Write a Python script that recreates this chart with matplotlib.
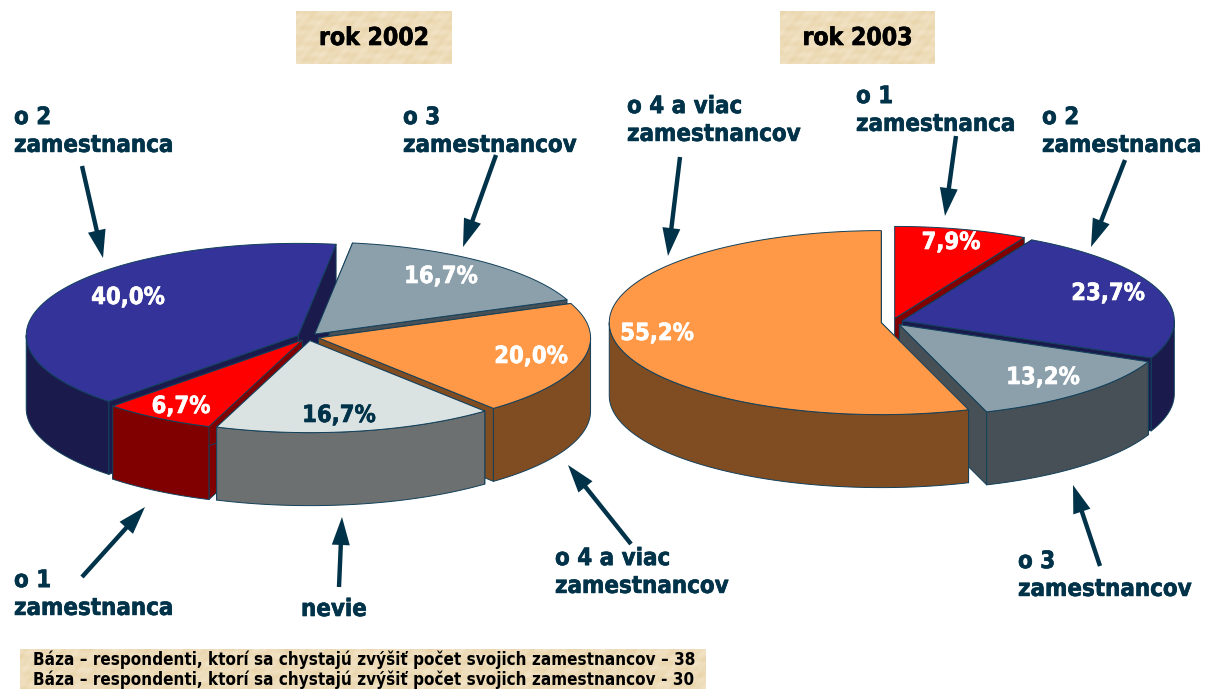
import numpy as np
import matplotlib
matplotlib.use("Agg")
import matplotlib.pyplot as plt
import matplotlib.patheffects as pe
from matplotlib.patches import Polygon
from matplotlib.font_manager import FontProperties

TEAL = "#003349"
EDGE = "#12405A"


def bold(size):
    return FontProperties(family="DejaVu Sans", stretch="condensed", weight="bold", size=size)


def heavy(color, w=0.45):
    return [pe.withStroke(linewidth=w, foreground=color)]


# data (clockwise from start angle)
values_2002 = [16.7, 20.0, 16.7, 6.7, 40.0]
labels_2002 = ["16,7%", "20,0%", "16,7%", "6,7%", "40,0%"]
tops_2002 = ["#8CA0AC", "#FF9947", "#DAE2E2", "#FF0000", "#333399"]
sides_2002 = ["#465056", "#804C22", "#6D7070", "#800000", "#1A1A4D"]
lblcol_2002 = ["white", "white", TEAL, "white", "white"]
lblpos_2002 = [(441, 276), (531, 356), (339, 415), (181, 406), (128, 297)]

values_2003 = [7.9, 23.7, 13.2, 55.2]
labels_2003 = ["7,9%", "23,7%", "13,2%", "55,2%"]
tops_2003 = ["#FF0000", "#333399", "#8CA0AC", "#FF9947"]
sides_2003 = ["#800000", "#1A1A4D", "#465056", "#804C22"]
lblcol_2003 = ["white", "white", "white", "white"]
lblpos_2003 = [(951, 242), (1108, 293), (1043, 377), (657, 333)]

category_text = [
    ("o 2\nzamestnanca", 14, 131),
    ("o 3\nzamestnancov", 403, 131),
    ("o 1\nzamestnanca", 14, 594),
    ("nevie", 301, 609),
    ("o 4 a viac\nzamestnancov", 555, 572),
    ("o 4 a viac\nzamestnancov", 627, 120),
    ("o 1\nzamestnanca", 856, 110),
    ("o 2\nzamestnanca", 1042, 131),
    ("o 3\nzamestnancov", 1018, 575),
]
arrows = [
    ((82, 166), (103, 258)),
    ((496, 155), (463, 247)),
    ((82, 577), (145, 507)),
    ((339, 587), (342, 517)),
    ((631, 544), (568, 465)),
    ((680, 157), (668, 256)),
    ((956, 136), (945, 216)),
    ((1125, 160), (1091, 247)),
    ((1100, 566), (1073, 485)),
]
titles = [("rok 2002", 296, 452), ("rok 2003", 780, 935)]
base_lines = [
    "Báza – respondenti, ktorí sa chystajú zvýšiť počet svojich zamestnancov – 38",
    "Báza – respondenti, ktorí sa chystajú zvýšiť počet svojich zamestnancov - 30",
]

W, H = 1206, 689
fig = plt.figure(figsize=(W / 100, H / 100), dpi=100)
ax = fig.add_axes([0, 0, 1, 1])
ax.set_xlim(0, W)
ax.set_ylim(H, 0)
ax.axis("off")


def pie3d(values, tops, sides, cx, cy, start, a=272, b=92, depth=73, explode=0.04):
    vals = np.asarray(values, float)
    ang = start + np.concatenate([[0], np.cumsum(vals / vals.sum() * 360)])
    slices = []
    for i in range(len(vals)):
        t0, t1 = ang[i], ang[i + 1]
        mid = np.radians((t0 + t1) / 2)
        vx = cx + explode * a * np.sin(mid)
        vy = cy - explode * b * np.cos(mid)
        slices.append((np.cos(mid), vx, vy, t0, t1, tops[i], sides[i]))
    order = sorted(slices, key=lambda s: -s[0])
    kw = dict(ec=EDGE, lw=0.7, joinstyle="round")

    def pt(vx, vy, deg):
        r = np.radians(deg)
        return vx + a * np.sin(r), vy - b * np.cos(r)

    # radial walls
    for _, vx, vy, t0, t1, _t, side in order:
        for deg in (t0, t1):
            x, y = pt(vx, vy, deg)
            ax.add_patch(Polygon([(vx, vy), (x, y), (x, y + depth), (vx, vy + depth)],
                                 fc=side, zorder=2, **kw))
    # rims: only the front half of the circle
    for _, vx, vy, t0, t1, _t, side in order:
        for k in (-360, 0, 360):
            lo, hi = max(t0, 90 + k), min(t1, 270 + k)
            if hi > lo:
                xs, ys = pt(vx, vy, np.linspace(lo, hi, 200))
                ax.add_patch(Polygon(np.c_[np.r_[xs, xs[::-1]], np.r_[ys, ys[::-1] + depth]],
                                     fc=side, zorder=3, **kw))
    # tops
    for _, vx, vy, t0, t1, top, _s in order:
        xs, ys = pt(vx, vy, np.linspace(t0, t1, 300))
        ax.add_patch(Polygon(np.c_[np.r_[vx, xs], np.r_[vy, ys]], fc=top, zorder=4, **kw))


pie3d(values_2002, tops_2002, sides_2002, 308, 337, 8)
pie3d(values_2003, tops_2003, sides_2003, 892, 322, 0)


def texture(x0, x1, y0, y1):
    xx, yy = np.meshgrid(np.arange(x0, x1, 2.0), np.arange(y0, y1, 2.0))
    n = (np.sin(xx * 0.31 + yy * 0.17) + np.sin(xx * 0.13 - yy * 0.41 + 1.3)
         + np.sin(xx * 0.67 + yy * 0.53 + 2.1) + np.sin(xx * 0.09 + yy * 0.77 + 0.4)) / 4
    c0, c1 = np.array([0.910, 0.827, 0.659]), np.array([0.957, 0.902, 0.796])
    img = c0 + (c1 - c0) * (n[..., None] + 1) / 2
    ax.imshow(img, extent=(x0, x1, y1, y0), aspect="auto", interpolation="bilinear", zorder=1)


for txt, x0, x1 in titles:
    texture(x0, x1, 11, 64)
    ax.text((x0 + x1) / 2, 38, txt, ha="center", va="center", fontproperties=bold(17.7),
            color="black", zorder=6, path_effects=heavy("black"))

texture(20, 706, 649, 689)
for line, y in zip(base_lines, (660, 680)):
    ax.text(33, y, line, ha="left", va="center", fontproperties=bold(12.25),
            color="black", zorder=6)
ax.set_xlim(0, W)
ax.set_ylim(H, 0)

for labs, pos, cols in ((labels_2002, lblpos_2002, lblcol_2002),
                        (labels_2003, lblpos_2003, lblcol_2003)):
    for s, (x, y), c in zip(labs, pos, cols):
        ax.text(x, y, s, ha="center", va="center", fontproperties=bold(17),
                color=c, zorder=6, path_effects=heavy(c))

for s, x, y in category_text:
    ax.text(x, y, s, ha="left", va="center", fontproperties=bold(17.2),
            color=TEAL, linespacing=1.2, zorder=6, path_effects=heavy(TEAL))

for p0, p1 in arrows:
    p0, p1 = np.array(p0, float), np.array(p1, float)
    u = (p1 - p0) / np.hypot(*(p1 - p0))
    n = np.array([-u[1], u[0]])
    base = p1 - 28 * u
    ax.add_patch(Polygon([p0 + 2.2 * n, base + 2.2 * n, base + 9 * n, p1, base - 9 * n,
                          base - 2.2 * n, p0 - 2.2 * n], fc=TEAL, ec="none", zorder=7))

fig.savefig("out.png", dpi=100, facecolor="white")
